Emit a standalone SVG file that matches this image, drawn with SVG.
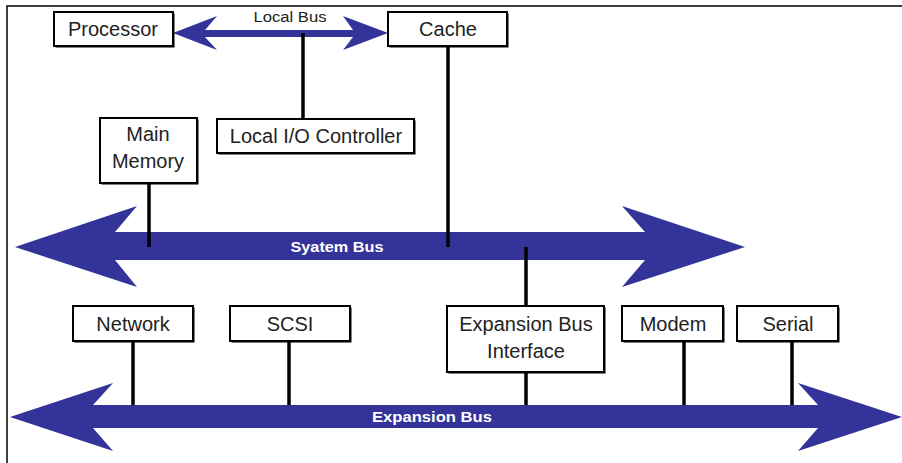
<svg xmlns="http://www.w3.org/2000/svg" width="902" height="463" viewBox="0 0 902 463">
<style>
.sh{fill:#000}
.bx{fill:#fff;stroke:#000;stroke-width:2}
.t{font-family:"Liberation Sans",Arial,sans-serif;font-size:20px;fill:#222;text-anchor:middle}
.bl{font-family:"Liberation Sans",Arial,sans-serif;font-weight:bold;font-size:15px;fill:#fff;text-anchor:middle}
.bus{fill:#333399}
.ln{stroke:#000;stroke-width:3.5;fill:none}
</style>
<rect x="7" y="6" width="910" height="470" fill="#fff" stroke="#000" stroke-width="1.5"/>
<g id="buses">
<path id="local-bus" class="bus" d="M173,33 L217,16 L205,30 L353,30 L343,16 L388,33 L343,50 L353,37 L205,37 L217,50 Z"/>
<path id="system-bus" class="bus" d="M15,247 L137,206 L115,232 L645,232 L622,206 L745,247 L622,287 L645,260 L115,260 L137,287 Z"/>
<path id="expansion-bus" class="bus" d="M10,417 L113,383 L93,405 L818,405 L798,383 L902,417 L798,451 L818,428 L93,428 L113,451 Z"/>
<text x="290" y="22" font-family="Liberation Sans, Arial, sans-serif" font-size="14" fill="#222" text-anchor="middle" textLength="73" lengthAdjust="spacingAndGlyphs">Local Bus</text>
<text class="bl" x="337" y="252" textLength="93" lengthAdjust="spacingAndGlyphs">Syatem Bus</text>
<text class="bl" x="432" y="422" textLength="120" lengthAdjust="spacingAndGlyphs">Expansion Bus</text>
</g>
<g id="connectors">
<line class="ln" x1="303" y1="33" x2="303" y2="119"/>
<line class="ln" x1="149" y1="183" x2="149" y2="247"/>
<line class="ln" x1="448" y1="46" x2="448" y2="247"/>
<line class="ln" x1="526" y1="247" x2="526" y2="306"/>
<line class="ln" x1="526" y1="372" x2="526" y2="405"/>
<line class="ln" x1="133" y1="342" x2="133" y2="405"/>
<line class="ln" x1="289" y1="342" x2="289" y2="405"/>
<line class="ln" x1="684" y1="342" x2="684" y2="405"/>
<line class="ln" x1="792" y1="342" x2="792" y2="405"/>
</g>
<g id="processor">
<rect class="sh" x="55.5" y="13.5" width="119" height="34"/>
<rect class="bx" x="54" y="12" width="119" height="34"/>
<text class="t" x="113" y="36">Processor</text>
</g>
<g id="cache">
<rect class="sh" x="389.5" y="13.5" width="119" height="34"/>
<rect class="bx" x="388" y="12" width="119" height="34"/>
<text class="t" x="448" y="36">Cache</text>
</g>
<g id="local-io">
<rect class="sh" x="218.5" y="120.5" width="197" height="34"/>
<rect class="bx" x="217" y="119" width="197" height="34"/>
<text class="t" x="316" y="143">Local I/O Controller</text>
</g>
<g id="main-memory">
<rect class="sh" x="101.5" y="119.5" width="97" height="65"/>
<rect class="bx" x="100" y="118" width="97" height="65"/>
<text class="t" x="148" y="141">Main</text>
<text class="t" x="148" y="168">Memory</text>
</g>
<g id="network">
<rect class="sh" x="74.5" y="307.5" width="120" height="35"/>
<rect class="bx" x="73" y="306" width="120" height="35"/>
<text class="t" x="133" y="331">Network</text>
</g>
<g id="scsi">
<rect class="sh" x="231.5" y="307.5" width="120" height="35"/>
<rect class="bx" x="230" y="306" width="120" height="35"/>
<text class="t" x="290" y="331">SCSI</text>
</g>
<g id="expansion-bus-interface">
<rect class="sh" x="448.5" y="307.5" width="157" height="66"/>
<rect class="bx" x="447" y="306" width="157" height="66"/>
<text class="t" x="526" y="331">Expansion Bus</text>
<text class="t" x="526" y="358">Interface</text>
</g>
<g id="modem">
<rect class="sh" x="623.5" y="307.5" width="101" height="35"/>
<rect class="bx" x="622" y="306" width="101" height="35"/>
<text class="t" x="673" y="331">Modem</text>
</g>
<g id="serial">
<rect class="sh" x="738.5" y="307.5" width="101" height="35"/>
<rect class="bx" x="737" y="306" width="101" height="35"/>
<text class="t" x="788" y="331">Serial</text>
</g>
</svg>
